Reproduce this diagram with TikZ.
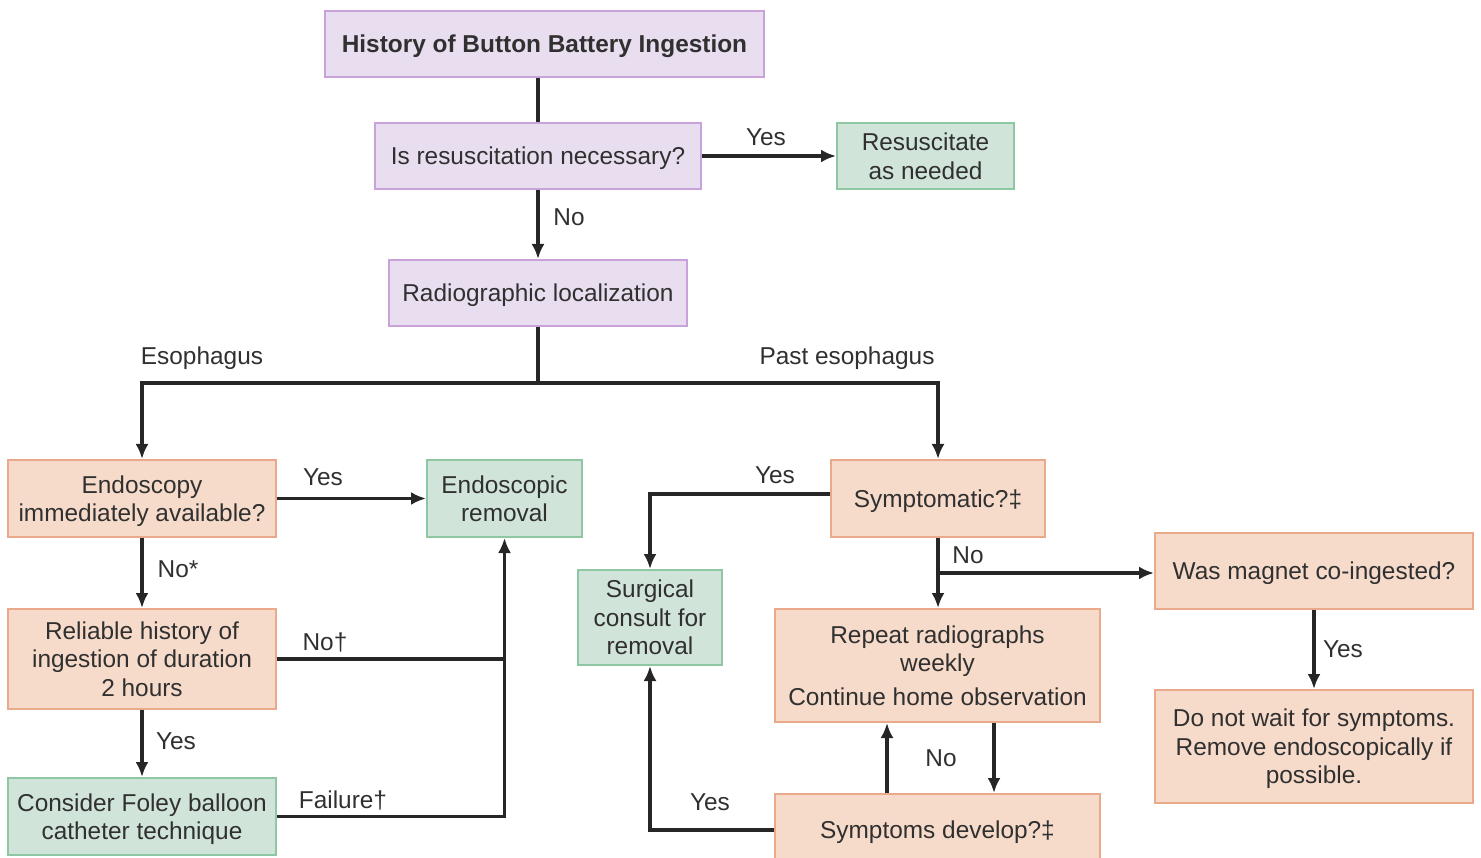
\documentclass[tikz,border=0pt]{standalone}
\usepackage{fontspec}
\setmainfont{Liberation Sans}
\usetikzlibrary{arrows.meta}
\definecolor{txt}{HTML}{303030}
\definecolor{ln}{HTML}{262626}
\definecolor{purfill}{HTML}{E9DEEF}
\definecolor{purdraw}{HTML}{C9A2D9}
\definecolor{grnfill}{HTML}{D1E4D9}
\definecolor{grndraw}{HTML}{8FC7A2}
\definecolor{pchfill}{HTML}{F6DACA}
\definecolor{pchdraw}{HTML}{EAA98A}
\newcommand{\fsz}{\fontsize{24.4}{28.5}\selectfont}
\tikzset{
  box/.style={draw, line width=2pt, inner sep=0pt, align=center, font=\fsz, text=txt, text depth=-1.5pt},
  purbox/.style={box, fill=purfill, draw=purdraw},
  grnbox/.style={box, fill=grnfill, draw=grndraw},
  pchbox/.style={box, fill=pchfill, draw=pchdraw},
  conn/.style={draw=ln, line width=3.2pt},
  arr/.style={conn, -{Latex[length=15pt,width=13pt]}},
  lbl/.style={font=\fsz, text=txt, inner sep=0pt}
}
\begin{document}
\begin{tikzpicture}[x=1pt,y=-1pt]
\useasboundingbox (0,0) rectangle (1481,858);
\clip (0,0) rectangle (1481,858);
% nodes
\node[purbox, minimum width=439pt, minimum height=66pt] (hist) at (544.5,44) {\bfseries History of Button Battery Ingestion};
\node[purbox, minimum width=326pt, minimum height=66pt] (resq) at (538,156) {Is resuscitation necessary?};
\node[grnbox, minimum width=177pt, minimum height=66pt] (resc) at (925.5,156) {Resuscitate\\as needed};
\node[purbox, minimum width=298pt, minimum height=66pt] (radio) at (538,293) {Radiographic localization};
\node[pchbox, minimum width=268pt, minimum height=77pt] (endoq) at (142,498.5) {Endoscopy\\immediately available?};
\node[grnbox, minimum width=155pt, minimum height=77pt] (endor) at (504.5,498.5) {Endoscopic\\removal};
\node[pchbox, minimum width=268pt, minimum height=100pt] (relh) at (142,659) {Reliable history of\\ingestion of duration\\2 hours};
\node[grnbox, minimum width=268pt, minimum height=77pt] (foley) at (142,816.5) {Consider Foley balloon\\catheter technique};
\node[pchbox, minimum width=214pt, minimum height=77pt] (sympt) at (938,498.5) {Symptomatic?‡};
\node[grnbox, minimum width=144pt, minimum height=95pt] (surg) at (650,617.5) {Surgical\\consult for\\removal};
\node[pchbox, minimum width=318pt, minimum height=76pt] (magnet) at (1314,571) {Was magnet co-ingested?};
\node[pchbox, minimum width=318pt, minimum height=113pt] (donot) at (1314,746.5) {Do not wait for symptoms.\\Remove endoscopically if\\possible.};
\node[pchbox, minimum width=325pt, minimum height=113pt] (repeat) at (937.5,665.5) {Repeat radiographs\\weekly\\[5pt]Continue home observation};
\node[pchbox, minimum width=325pt, minimum height=72pt] (sdev) at (937.5,830) {Symptoms develop?‡};
% connectors
\draw[conn] (resq.north |- hist.south) -- (resq.north);
\draw[arr] (resq.east) -- (resc.west);
\draw[arr] (resq.south) -- (radio.north);
\draw[conn] (radio.south) -- ++(0,56) coordinate (junc);
\draw[arr] (junc) -| (endoq.north);
\draw[arr] (junc) -| (sympt.north);
\draw[arr] (endoq.east) -- (endor.west);
\draw[arr] (endoq.south) -- (relh.north);
\draw[arr] (relh.south) -- (foley.north);
\draw[arr] (foley.east) -| (endor.south);
\draw[conn] (relh.east) -- (relh.east -| endor.south);
\draw[arr] ([yshift=4.5pt]sympt.west) -| (surg.north);
\draw[arr] (sympt.south) -- (sympt.south |- repeat.north);
\draw[conn] (sympt.south) -- ++(0,35) coordinate (nobr);
\draw[arr] (nobr) -- (nobr -| magnet.west);
\draw[arr] (magnet.south) -- (donot.north);
\draw[arr] ([xshift=-50.5pt]sdev.north) -- ([xshift=-50.5pt]repeat.south);
\draw[arr] ([xshift=56.5pt]repeat.south) -- ([xshift=56.5pt]sdev.north);
\draw[arr] (sdev.west) -| (surg.south);
% labels
\node[lbl] (l1) at (766,137) {Yes};
\node[lbl] (l2) at (569,217) {No};
\node[lbl] (l3) at (202,358) {Esophagus};
\node[lbl] (l4) at (847,358) {Past esophagus};
\node[lbl] (l5) at (323,477) {Yes};
\node[lbl] (l6) at (178,569) {No*};
\node[lbl] (l7) at (325,642) {No†};
\node[lbl] (l8) at (176,741) {Yes};
\node[lbl] (l9) at (343,800) {Failure†};
\node[lbl] (l10) at (775,475) {Yes};
\node[lbl] (l11) at (968,555) {No};
\node[lbl] (l12) at (1343,649) {Yes};
\node[lbl] (l13) at (941,758) {No};
\node[lbl] (l14) at (710,802) {Yes};
\end{tikzpicture}
\end{document}
